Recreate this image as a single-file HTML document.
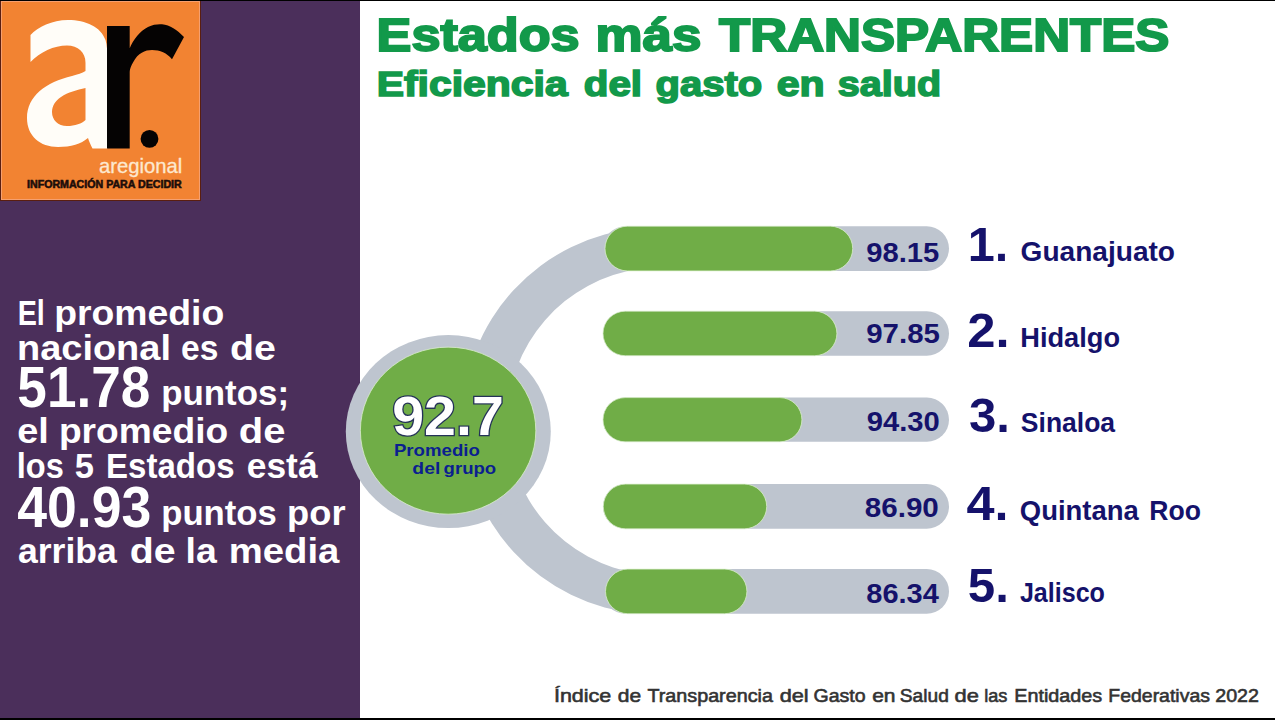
<!DOCTYPE html>
<html><head><meta charset="utf-8">
<style>
html,body{margin:0;padding:0;background:#fff;}
body{width:1275px;height:720px;overflow:hidden;}
svg{display:block;}
text{font-family:"Liberation Sans",sans-serif;font-weight:bold;}
</style></head>
<body>
<svg width="1275" height="720" viewBox="0 0 1275 720">
<rect x="0" y="0" width="1275" height="720" fill="#ffffff"/>
<rect x="0" y="0" width="360" height="720" fill="#4b2f5b"/>
<rect x="0" y="0" width="201" height="201" fill="#5a1e10"/>
<rect x="1" y="1" width="199" height="199" fill="#f5a070"/>
<rect x="2" y="2" width="197" height="197" fill="#f28332"/>
<path fill="#fffdf8" d="M30.5 35 C38 27 52 20 68 20 C86 20 101 27 105.5 40 C107 45 107.5 52 107.5 60 L107.5 148.5 L92.5 148.5 C90.5 145 89 141 88 138 C81 144 71 147 58 147 C40 147 27 136 27 118 C27 96 46 82 72 76 C78 74.5 82 73 85.5 71 L85.5 63 C85.5 52 78 45.5 67 45.5 C54 45.5 40 52 30.5 62 Z M85.5 88 C77 90 68 92 61 97 C55 101 52 106 52 112 C52 120 58 126 67 126 C75 126 82 123.5 85.5 120 Z"/>
<path fill="#050303" d="M107 26 L129.7 26 L129.7 48.3 C133 40 140 31 148 27 C153 24.5 158 24 162 24.3 C170 25 177 30 184 37 L172 59.3 C167 53 160 50 152 50 C145 50 138 53 133.3 62 C131 66 129.7 69 129.7 72 L129.7 148.5 L107 148.5 Z"/>
<circle cx="149.5" cy="138.9" r="8.9" fill="#050303"/>
<path d="M640 228.26 A193.4 193.4 0 0 0 640 613.74 L640 573.56 A153.8 153.8 0 0 1 640 268.84 Z" fill="#bec5cf"/>
<g fill="#bec5cf"><rect x="603" y="226.2" width="346" height="44.7" rx="22.35"/><rect x="603" y="311.2" width="346" height="44.5" rx="22.25"/><rect x="603" y="397.6" width="346" height="44.2" rx="22.1"/><rect x="603" y="484.1" width="346" height="44.7" rx="22.35"/><rect x="603" y="569.1" width="346" height="44.6" rx="22.3"/></g>
<g fill="#70ad47" stroke="rgba(220,240,205,0.75)" stroke-width="1"><rect x="605" y="226.2" width="247.7" height="44.7" rx="22.35"/><rect x="603" y="311.2" width="233.9" height="44.5" rx="22.25"/><rect x="603" y="397.6" width="198.9" height="44.2" rx="22.1"/><rect x="603.3" y="484.1" width="163.4" height="44.7" rx="22.35"/><rect x="605.5" y="569.1" width="141.4" height="44.6" rx="22.3"/></g>
<ellipse cx="448.3" cy="431.6" rx="102.5" ry="96.5" fill="#bec5cf"/>
<ellipse cx="448.1" cy="430.65" rx="87.7" ry="83.5" fill="#70ad47" stroke="rgba(220,240,205,0.75)" stroke-width="1"/>
<text x="98.93" y="172.8" font-size="19.8" style="font-weight:normal" fill="#fde8cf" stroke="#fde8cf" stroke-width="0.3" textLength="83.35" lengthAdjust="spacingAndGlyphs">aregional</text>
<text x="27.03" y="188.3" font-size="10.2" fill="#1c0d0a" stroke="#1c0d0a" stroke-width="0.55" textLength="154.69" lengthAdjust="spacingAndGlyphs">INFORMACIÓN PARA DECIDIR</text>
<text x="376.60" y="51" font-size="46" fill="#12994a" stroke="#12994a" stroke-width="2" textLength="203.02" lengthAdjust="spacingAndGlyphs">Estados</text>
<text x="595.55" y="51" font-size="46" fill="#12994a" stroke="#12994a" stroke-width="2" textLength="105.84" lengthAdjust="spacingAndGlyphs">más</text>
<text x="719.10" y="51" font-size="46" fill="#12994a" stroke="#12994a" stroke-width="2" textLength="450.28" lengthAdjust="spacingAndGlyphs">TRANSPARENTES</text>
<text x="376.68" y="96.2" font-size="35.3" fill="#12994a" stroke="#12994a" stroke-width="1.6" textLength="191.10" lengthAdjust="spacingAndGlyphs">Eficiencia</text>
<text x="583.76" y="96.2" font-size="35.3" fill="#12994a" stroke="#12994a" stroke-width="1.6" textLength="58.33" lengthAdjust="spacingAndGlyphs">del</text>
<text x="655.57" y="96.2" font-size="35.3" fill="#12994a" stroke="#12994a" stroke-width="1.6" textLength="106.73" lengthAdjust="spacingAndGlyphs">gasto</text>
<text x="776.74" y="96.2" font-size="35.3" fill="#12994a" stroke="#12994a" stroke-width="1.6" textLength="47.93" lengthAdjust="spacingAndGlyphs">en</text>
<text x="837.88" y="96.2" font-size="35.3" fill="#12994a" stroke="#12994a" stroke-width="1.6" textLength="103.18" lengthAdjust="spacingAndGlyphs">salud</text>
<text x="392.23" y="434.8" font-size="55.5" fill="#ffffff" stroke="#243258" stroke-width="2.6" paint-order="stroke" textLength="111.56" lengthAdjust="spacingAndGlyphs">92.7</text>
<text x="393.90" y="456.3" font-size="17" fill="#0b1f8f"  textLength="85.94" lengthAdjust="spacingAndGlyphs">Promedio</text>
<text x="412.36" y="474" font-size="17" fill="#0b1f8f"  textLength="27.91" lengthAdjust="spacingAndGlyphs">del</text>
<text x="443.61" y="474" font-size="17" fill="#0b1f8f"  textLength="52.56" lengthAdjust="spacingAndGlyphs">grupo</text>
<text x="866.26" y="262.4" font-size="28" fill="#15126b"  textLength="73.07" lengthAdjust="spacingAndGlyphs">98.15</text>
<text x="866.25" y="343.2" font-size="28" fill="#15126b"  textLength="73.63" lengthAdjust="spacingAndGlyphs">97.85</text>
<text x="866.76" y="431.2" font-size="28" fill="#15126b"  textLength="73.07" lengthAdjust="spacingAndGlyphs">94.30</text>
<text x="864.74" y="516.6" font-size="28" fill="#15126b"  textLength="74.10" lengthAdjust="spacingAndGlyphs">86.90</text>
<text x="866.27" y="602.8" font-size="28" fill="#15126b"  textLength="72.52" lengthAdjust="spacingAndGlyphs">86.34</text>
<text x="967.81" y="260.5" font-size="48.8" fill="#15126b"  textLength="40.58" lengthAdjust="spacingAndGlyphs">1.</text>
<text x="967.22" y="346.9" font-size="48.8" fill="#15126b"  textLength="42.33" lengthAdjust="spacingAndGlyphs">2.</text>
<text x="969.09" y="431.5" font-size="48.8" fill="#15126b"  textLength="40.93" lengthAdjust="spacingAndGlyphs">3.</text>
<text x="966.47" y="520.2" font-size="48.8" fill="#15126b"  textLength="42.06" lengthAdjust="spacingAndGlyphs">4.</text>
<text x="967.78" y="602" font-size="48.8" fill="#15126b"  textLength="41.05" lengthAdjust="spacingAndGlyphs">5.</text>
<text x="1020.60" y="260.8" font-size="28" fill="#15126b"  textLength="154.42" lengthAdjust="spacingAndGlyphs">Guanajuato</text>
<text x="1020.26" y="346.9" font-size="28" fill="#15126b"  textLength="99.80" lengthAdjust="spacingAndGlyphs">Hidalgo</text>
<text x="1020.85" y="431.5" font-size="28" fill="#15126b"  textLength="94.26" lengthAdjust="spacingAndGlyphs">Sinaloa</text>
<text x="1019.82" y="520.2" font-size="28" fill="#15126b"  textLength="118.94" lengthAdjust="spacingAndGlyphs">Quintana</text>
<text x="1149.30" y="520.2" font-size="28" fill="#15126b"  textLength="51.66" lengthAdjust="spacingAndGlyphs">Roo</text>
<text x="1019.90" y="602" font-size="28" fill="#15126b"  textLength="85.05" lengthAdjust="spacingAndGlyphs">Jalisco</text>
<text x="17.64" y="325.3" font-size="34.5" fill="#ffffff"  textLength="27.14" lengthAdjust="spacingAndGlyphs">El</text>
<text x="54.24" y="325.3" font-size="34.5" fill="#ffffff"  textLength="170.03" lengthAdjust="spacingAndGlyphs">promedio</text>
<text x="17.00" y="359.9" font-size="34.5" fill="#ffffff"  textLength="153.97" lengthAdjust="spacingAndGlyphs">nacional</text>
<text x="181.03" y="359.9" font-size="34.5" fill="#ffffff"  textLength="37.31" lengthAdjust="spacingAndGlyphs">es</text>
<text x="230.06" y="359.9" font-size="34.5" fill="#ffffff"  textLength="45.88" lengthAdjust="spacingAndGlyphs">de</text>
<text x="161.18" y="405.3" font-size="34.5" fill="#ffffff"  textLength="127.83" lengthAdjust="spacingAndGlyphs">puntos;</text>
<text x="17.20" y="443.3" font-size="34.5" fill="#ffffff"  textLength="31.55" lengthAdjust="spacingAndGlyphs">el</text>
<text x="58.95" y="443.3" font-size="34.5" fill="#ffffff"  textLength="169.21" lengthAdjust="spacingAndGlyphs">promedio</text>
<text x="238.84" y="443.3" font-size="34.5" fill="#ffffff"  textLength="46.62" lengthAdjust="spacingAndGlyphs">de</text>
<text x="16.71" y="478" font-size="34.5" fill="#ffffff"  textLength="47.10" lengthAdjust="spacingAndGlyphs">los</text>
<text x="74.80" y="478" font-size="34.5" fill="#ffffff"  textLength="19.19" lengthAdjust="spacingAndGlyphs">5</text>
<text x="106.09" y="478" font-size="34.5" fill="#ffffff"  textLength="128.48" lengthAdjust="spacingAndGlyphs">Estados</text>
<text x="246.78" y="478" font-size="34.5" fill="#ffffff"  textLength="70.79" lengthAdjust="spacingAndGlyphs">está</text>
<text x="161.19" y="525.3" font-size="34.5" fill="#ffffff"  textLength="115.70" lengthAdjust="spacingAndGlyphs">puntos</text>
<text x="287.10" y="525.3" font-size="34.5" fill="#ffffff"  textLength="58.41" lengthAdjust="spacingAndGlyphs">por</text>
<text x="17.97" y="563" font-size="34.5" fill="#ffffff"  textLength="98.92" lengthAdjust="spacingAndGlyphs">arriba</text>
<text x="129.86" y="563" font-size="34.5" fill="#ffffff"  textLength="45.88" lengthAdjust="spacingAndGlyphs">de</text>
<text x="185.53" y="563" font-size="34.5" fill="#ffffff"  textLength="31.23" lengthAdjust="spacingAndGlyphs">la</text>
<text x="228.78" y="563" font-size="34.5" fill="#ffffff"  textLength="110.61" lengthAdjust="spacingAndGlyphs">media</text>
<text x="17.35" y="406.6" font-size="57.3" fill="#ffffff"  textLength="132.94" lengthAdjust="spacingAndGlyphs">51.78</text>
<text x="17.17" y="526.6" font-size="57.3" fill="#ffffff"  textLength="134.07" lengthAdjust="spacingAndGlyphs">40.93</text>
<text x="553.94" y="701.9" font-size="19" style="font-weight:normal" fill="#333333" stroke="#333333" stroke-width="0.6" textLength="57.36" lengthAdjust="spacingAndGlyphs">Índice</text>
<text x="617.79" y="701.9" font-size="19" style="font-weight:normal" fill="#333333" stroke="#333333" stroke-width="0.6" textLength="23.37" lengthAdjust="spacingAndGlyphs">de</text>
<text x="647.40" y="701.9" font-size="19" style="font-weight:normal" fill="#333333" stroke="#333333" stroke-width="0.6" textLength="125.54" lengthAdjust="spacingAndGlyphs">Transparencia</text>
<text x="779.66" y="701.9" font-size="19" style="font-weight:normal" fill="#333333" stroke="#333333" stroke-width="0.6" textLength="29.00" lengthAdjust="spacingAndGlyphs">del</text>
<text x="813.47" y="701.9" font-size="19" style="font-weight:normal" fill="#333333" stroke="#333333" stroke-width="0.6" textLength="52.15" lengthAdjust="spacingAndGlyphs">Gasto</text>
<text x="872.19" y="701.9" font-size="19" style="font-weight:normal" fill="#333333" stroke="#333333" stroke-width="0.6" textLength="23.37" lengthAdjust="spacingAndGlyphs">en</text>
<text x="899.79" y="701.9" font-size="19" style="font-weight:normal" fill="#333333" stroke="#333333" stroke-width="0.6" textLength="49.03" lengthAdjust="spacingAndGlyphs">Salud</text>
<text x="954.55" y="701.9" font-size="19" style="font-weight:normal" fill="#333333" stroke="#333333" stroke-width="0.6" textLength="24.37" lengthAdjust="spacingAndGlyphs">de</text>
<text x="984.14" y="701.9" font-size="19" style="font-weight:normal" fill="#333333" stroke="#333333" stroke-width="0.6" textLength="23.24" lengthAdjust="spacingAndGlyphs">las</text>
<text x="1014.22" y="701.9" font-size="19" style="font-weight:normal" fill="#333333" stroke="#333333" stroke-width="0.6" textLength="88.02" lengthAdjust="spacingAndGlyphs">Entidades</text>
<text x="1108.25" y="701.9" font-size="19" style="font-weight:normal" fill="#333333" stroke="#333333" stroke-width="0.6" textLength="101.74" lengthAdjust="spacingAndGlyphs">Federativas</text>
<text x="1215.26" y="701.9" font-size="19" style="font-weight:normal" fill="#333333" stroke="#333333" stroke-width="0.6" textLength="43.76" lengthAdjust="spacingAndGlyphs">2022</text>
<rect x="0" y="0" width="1275" height="1" fill="#000"/>
<rect x="0" y="718" width="1275" height="2" fill="#000"/>
</svg>
</body></html>
